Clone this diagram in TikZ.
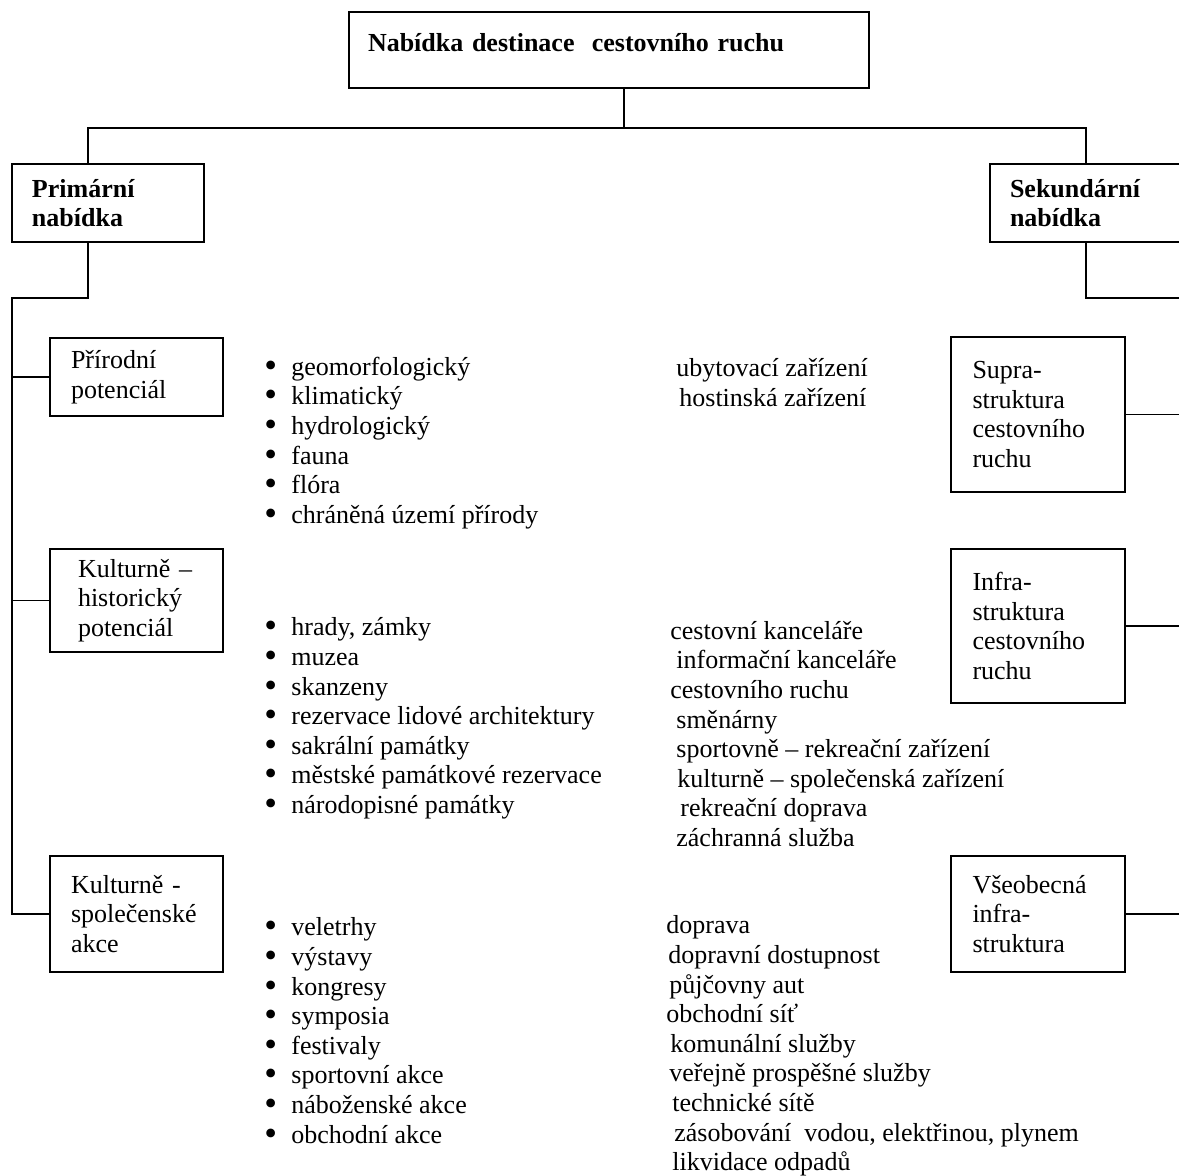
\documentclass[tikz,border=0pt]{standalone}
\usepackage{fontspec}
\setmainfont{Liberation Serif}
\usetikzlibrary{calc}
\tikzset{
  box/.style={rectangle, draw=black, line width=0.9pt, align=left,
    inner ysep=0pt, font=\fontsize{13}{14.8}\selectfont},
  mainbox/.style={box, minimum width=260pt, minimum height=38pt,
    text width=241pt, inner xsep=9.5pt, text height=10pt, text depth=8pt,
    font=\fontsize{13}{14.8}\selectfont\bfseries},
  topbox/.style={box, minimum width=96pt, minimum height=39pt,
    text width=76pt, inner xsep=10pt, font=\fontsize{13}{14.8}\selectfont\bfseries},
  subbox/.style={box, minimum width=86.5pt, text width=65.5pt, inner xsep=10.5pt},
  list/.style={anchor=west, inner sep=0pt, align=left,
    font=\fontsize{13}{14.8}\selectfont},
  line/.style={line width=0.9pt}
}
\newcommand{\bul}{\makebox[13.5pt][l]{\raisebox{-1pt}{\scalebox{1.4}{\textbullet}}}}
\newcommand{\ind}[1]{\hspace*{#1pt}}

\begin{document}
\begin{tikzpicture}[x=0.5pt, y=-0.5pt]
  \useasboundingbox (0,0) rectangle (1179,1176);

  % Destination offer
  \node[mainbox] (title) at (609, 50) {Nab\'idka destinace\ \ cestovn\'iho ruchu};

  % Primary and secondary offer
  \node[topbox] (prim) at (108, 203) {Prim\'arn\'i\\nab\'idka};
  \node[topbox] (sek) at (1086, 203) {Sekund\'arn\'i\\nab\'idka};

  % Joints
  \coordinate (tj) at ($(title.south west)+(276,39)$);
  \coordinate (pl) at ($(prim.north west)+(77,0)$);
  \coordinate (pb) at ($(prim.south west)+(77,0)$);
  \coordinate (ltop) at (12, 298);
  \coordinate (rtop) at (1182, 298);

  \draw[line] (title.south -| tj) -- (tj);
  \draw[line] (pl) |- (tj) -| (sek.north);

  % Primary side
  \node[subbox, minimum height=39pt] (prir) at (136.5, 377) {P\v{r}\'irodn\'i\\potenci\'al};
  \node[subbox, minimum height=51.5pt, text width=58.5pt, inner xsep=14pt] (kh) at (136.5, 600.5)
    {Kulturn\v{e} --\\historick\'y\\potenci\'al};
  \node[subbox, minimum height=58pt] (ksp) at (136.5, 914) {Kulturn\v{e} -\\spole\v{c}ensk\'e\\akce};

  \draw[line] (pb) |- (ltop) |- (ksp.west);
  \draw[line] (prir.west) -- (prir.west -| ltop);
  \draw[line] (kh.west) -- (kh.west -| ltop);

  % Secondary side
  \node[subbox, minimum width=87pt, minimum height=77.5pt] (supra) at (1038, 414.5)
    {Supra-\\struktura\\cestovn\'iho\\ruchu};
  \node[subbox, minimum width=87pt, minimum height=77pt] (infra) at (1038, 626)
    {Infra-\\struktura\\cestovn\'iho\\ruchu};
  \node[subbox, minimum width=87pt, minimum height=58pt] (vseob) at (1038, 914)
    {V\v{s}eobecn\'a\\infra-\\struktura};

  \draw[line] (sek.south) |- (rtop);
  \draw[line] (supra.east) -- (supra.east -| rtop);
  \draw[line] (infra.east) -- (infra.east -| rtop);
  \draw[line] (vseob.east) -- (vseob.east -| rtop);

  % Bullet lists
  \node[list] (natlist) at (264, 443) {\bul geomorfologick\'y\\\bul klimatick\'y\\\bul hydrologick\'y\\
    \bul fauna\\\bul fl\'ora\\\bul chr\'an\v{e}n\'a \'uzem\'i p\v{r}\'irody};
  \node[list] (histlist) at (264, 718.5) {\bul hrady, z\'amky\\\bul muzea\\\bul skanzeny\\
    \bul rezervace lidov\'e architektury\\\bul sakr\'aln\'i pam\'atky\\
    \bul m\v{e}stsk\'e pam\'atkov\'e rezervace\\\bul n\'arodopisn\'e pam\'atky};
  \node[list] (actlist) at (264, 1031.5) {\bul veletrhy\\\bul v\'ystavy\\\bul kongresy\\
    \bul symposia\\\bul festivaly\\\bul sportovn\'i akce\\\bul n\'abo\v{z}ensk\'e akce\\
    \bul obchodn\'i akce};

  % Facilities
  \node[list] (supralist) at (676, 382.5) {ubytovac\'i za\v{r}\'izen\'i\\\ind{1.5}hostinsk\'a za\v{r}\'izen\'i};
  \node[list] (infralist) at (670, 734) {cestovn\'i kancel\'a\v{r}e\\\ind{3}informa\v{c}n\'i kancel\'a\v{r}e\\
    cestovn\'iho ruchu\\\ind{3}sm\v{e}n\'arny\\\ind{3}sportovn\v{e} -- rekrea\v{c}n\'i za\v{r}\'izen\'i\\
    \ind{3.5}kulturn\v{e} -- spole\v{c}ensk\'a za\v{r}\'izen\'i\\\ind{5}rekrea\v{c}n\'i doprava\\
    \ind{3}z\'achrann\'a slu\v{z}ba};
  \node[list] (vseoblist) at (666, 1046) {doprava\\\ind{1}dopravn\'i dostupnost\\\ind{1.5}p\r{u}j\v{c}ovny aut\\
    obchodn\'i s\'i\v{t}\\\ind{2}komun\'aln\'i slu\v{z}by\\\ind{1.5}ve\v{r}ejn\v{e} prosp\v{e}\v{s}n\'e slu\v{z}by\\
    \ind{3}technick\'e s\'it\v{e}\\\ind{4}z\'asobov\'an\'i\ \ vodou, elekt\v{r}inou, plynem\\
    \ind{3}likvidace odpad\r{u}};
\end{tikzpicture}
\end{document}
